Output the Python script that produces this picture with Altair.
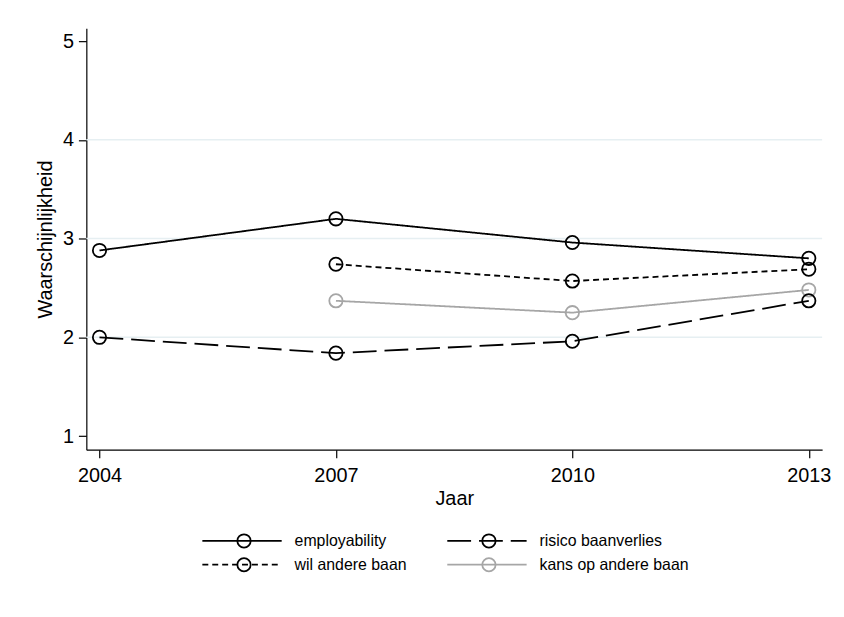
import altair as alt
import pandas as pd

# ---- data ----
years = [2004, 2007, 2010, 2013]
employability = [2.88, 3.20, 2.96, 2.80]
risico_baanverlies = [2.00, 1.84, 1.96, 2.37]
wil_andere_baan = [None, 2.74, 2.57, 2.69]
kans_op_andere_baan = [None, 2.37, 2.25, 2.48]

series_names = ["employability", "risico baanverlies", "wil andere baan", "kans op andere baan"]
series_values = [employability, risico_baanverlies, wil_andere_baan, kans_op_andere_baan]
series_colors = ["#000000", "#000000", "#000000", "#a6a6a6"]
series_dashes = [[1, 0], [24, 8], [6, 4], [1, 0]]
draw_order = [1, 3, 2, 0]  # higher drawn later

y_ticks = [1, 2, 3, 4, 5]
grid_values = [2, 3, 4]

legend_rows = [0, 0, 1, 1]
legend_cols = [0, 1, 0, 1]

FONT = "Liberation Sans"
W, H = 742, 425

rows = []
for name, vals, order in zip(series_names, series_values, draw_order):
    for yr, v in zip(years, vals):
        if v is not None:
            rows.append({"series": name, "year": yr, "value": v, "order": order})
df = pd.DataFrame(rows).sort_values(["order", "year"])

grid_df = pd.DataFrame({"value": grid_values})
leg_df = pd.DataFrame({"series": series_names, "row": legend_rows, "col": legend_cols})

color = alt.Color("series:N", scale=alt.Scale(domain=series_names, range=series_colors), legend=None)
dash = alt.StrokeDash("series:N", scale=alt.Scale(domain=series_names, range=series_dashes), legend=None)

xs = alt.Scale(domain=[2003.833, 2013.169], nice=False, zero=False)
ys = alt.Scale(domain=[0.862, 5.13], nice=False, zero=False)

y_axis = alt.Axis(values=y_ticks, format="d", title="Waarschijnlijkheid",
                  grid=False, tickSize=8, labelPadding=5, titlePadding=7)
x_enc = alt.X("year:Q", scale=xs, axis=alt.Axis(values=years, format="d", title="Jaar", grid=False,
                                                  tickSize=8, labelPadding=8, titlePadding=3))
y_enc = alt.Y("value:Q", scale=ys, axis=y_axis)

grid = alt.Chart(grid_df).mark_rule(color="#e6eff2", strokeWidth=1.5).encode(
    y=alt.Y("value:Q", scale=ys, axis=y_axis)
)

lines = alt.Chart(df).mark_line(strokeWidth=1.8).encode(
    x=x_enc, y=y_enc, color=color, strokeDash=dash, detail="series:N",
    order=alt.Order("year:Q")
)
points = alt.Chart(df).mark_point(shape="circle", filled=False, size=180, strokeWidth=1.8, opacity=1).encode(
    x=x_enc, y=y_enc, color=color, order=alt.Order("order:Q")
)

main = alt.layer(grid, lines, points)

# ---- legend drawn below the plot ----
lxs = alt.Scale(domain=[0, W], nice=False, zero=False)
lys = alt.Scale(domain=[0, 1], range=[517, 541], nice=False, zero=False)

leg_base = alt.Chart(leg_df).transform_calculate(
    x1="117 + datum.col * 247",
    x2="197 + datum.col * 247",
    xc="159 + datum.col * 247",
    xt="210 + datum.col * 247",
)
leg_lines = leg_base.mark_rule(strokeWidth=1.8).encode(
    x=alt.X("x1:Q", scale=lxs, axis=None), x2="x2:Q",
    y=alt.Y("row:Q", scale=lys, axis=None), color=color, strokeDash=dash
)
leg_points = leg_base.mark_point(shape="circle", filled=False, size=180, strokeWidth=1.8, opacity=1).encode(
    x=alt.X("xc:Q", scale=lxs, axis=None), y=alt.Y("row:Q", scale=lys, axis=None), color=color
)
leg_text = leg_base.mark_text(align="left", baseline="middle", fontSize=16, font=FONT, color="#000000").encode(
    x=alt.X("xt:Q", scale=lxs, axis=None), y=alt.Y("row:Q", scale=lys, axis=None), text="series:N"
)
legend = alt.layer(leg_lines, leg_points, leg_text)

chart = alt.layer(main, legend).resolve_scale(x="independent", y="independent").properties(
    width=W, height=H, background="white",
    padding={"left": 27, "top": 18, "right": 5, "bottom": 5}
).configure_view(stroke=None).configure_axis(
    labelFont=FONT, titleFont=FONT, labelFontSize=20, titleFontSize=20, titleFontWeight="normal",
    labelColor="#000000", titleColor="#000000", domainColor="#000000", tickColor="#000000",
    domainWidth=1.2, tickWidth=1.2
)

chart.save("out.html", embed_options={"renderer": "svg", "actions": False})
